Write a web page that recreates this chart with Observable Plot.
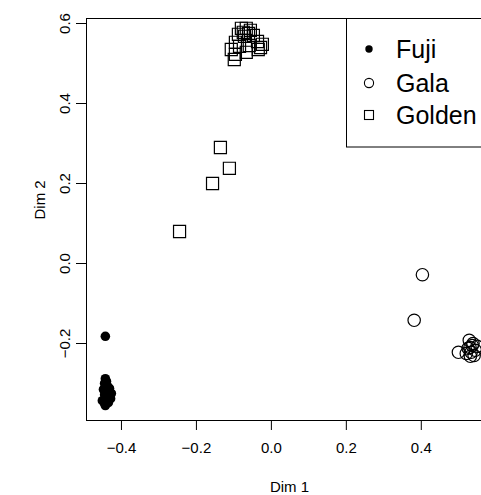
<!DOCTYPE html>
<html><head><meta charset="utf-8">
<script src="https://cdn.jsdelivr.net/npm/d3@7"></script>
<script src="https://cdn.jsdelivr.net/npm/@observablehq/plot@0.6"></script>
<style>
html,body{margin:0;padding:0;overflow:hidden;background:#fff;}
#chart{position:relative;width:481px;height:495px;overflow:hidden;}
</style></head><body><div id="chart"></div>
<script>
// Data (Dim 1, Dim 2)
const fujiX = [-0.443, -0.443, -0.445, -0.437, -0.448, -0.435, -0.427, -0.445, -0.437, -0.429, -0.451, -0.445, -0.435, -0.443, -0.440, -0.432];
const fujiY = [-0.182, -0.288, -0.300, -0.308, -0.315, -0.320, -0.325, -0.328, -0.335, -0.338, -0.343, -0.350, -0.348, -0.355, -0.295, -0.312];
const galaX = [0.403, 0.381, 0.528, 0.536, 0.525, 0.544, 0.533, 0.520, 0.541, 0.499, 0.549, 0.531, 0.538, 0.530];
const galaY = [-0.028, -0.142, -0.192, -0.205, -0.212, -0.217, -0.222, -0.225, -0.230, -0.222, -0.207, -0.232, -0.200, -0.210];
const goldenX = [-0.245, -0.157, -0.136, -0.112, -0.080, -0.067, -0.056, -0.075, -0.061, -0.088, -0.048, -0.072, -0.037, -0.024, -0.096, -0.107, -0.085, -0.059, -0.035, -0.096, -0.067, -0.099, -0.029];
const goldenY = [0.080, 0.200, 0.290, 0.238, 0.588, 0.588, 0.583, 0.578, 0.575, 0.573, 0.570, 0.568, 0.555, 0.548, 0.553, 0.535, 0.543, 0.545, 0.535, 0.523, 0.528, 0.510, 0.540];
const legendLabels = ["Fuji", "Gala", "Golden"];
const xTicks = [-0.4, -0.2, 0.0, 0.2, 0.4];
const yTicks = [-0.2, 0.0, 0.2, 0.4, 0.6];
const xLabel = "Dim 1";
const yLabel = "Dim 2";

const toRows = (xs, ys) => xs.map((x, i) => ({x, y: ys[i]}));
const fuji = toRows(fujiX, fujiY);
const gala = toRows(galaX, galaY);
const golden = toRows(goldenX, goldenY);

const fmt = d3.format(".1f");
const font = "'Liberation Sans', Arial, Helvetica, sans-serif";

const plot = Plot.plot({
  width: 481, height: 495,
  marginLeft: 86, marginRight: -11, marginTop: 18, marginBottom: 75,
  style: {fontFamily: font, fontSize: "15px", overflow: "hidden", background: "white", color: "black"},
  x: {domain: [-0.4933, 0.59]},
  y: {domain: [-0.3925, 0.6125]},
  marks: [
    Plot.frame({stroke: "black", strokeWidth: 1}),
    Plot.axisX({ticks: xTicks, tickSize: 10, tickPadding: 12, tickFormat: fmt, label: null, fontSize: 15}),
    Plot.axisY({ticks: yTicks, tickSize: 10, tickPadding: 7, tickRotate: -90, tickFormat: fmt, label: null, fontSize: 15}),
    Plot.dot(golden, {x: "x", y: "y", symbol: "square", r: 6.8, stroke: "black", strokeWidth: 1.2, fill: "none"}),
    Plot.dot(gala, {x: "x", y: "y", symbol: "circle", r: 6.2, stroke: "black", strokeWidth: 1.2, fill: "none"}),
    Plot.dot(fuji, {x: "x", y: "y", r: 4.8, fill: "black", stroke: "none"}),
    Plot.text([xLabel], {frameAnchor: "bottom", dy: 67, text: d => d, fontSize: 15, lineAnchor: "middle"}),
    Plot.text([yLabel], {frameAnchor: "left", dx: -46, text: d => d, rotate: -90, fontSize: 15, lineAnchor: "middle"})
  ]
});

// Legend (top-right, inside plot region)
const svg = d3.select(plot);
const lg = svg.append("g").attr("font-family", font).attr("text-anchor", "start");
lg.append("rect").attr("x", 346.5).attr("y", 18.5).attr("width", 160).attr("height", 128.5)
  .attr("fill", "white").attr("stroke", "black").attr("stroke-width", 1);
const rowY = [49, 83, 115];
legendLabels.forEach((lab, i) => {
  const cy = rowY[i];
  if (i === 0) lg.append("circle").attr("cx", 369).attr("cy", cy).attr("r", 3.7).attr("fill", "black");
  else if (i === 1) lg.append("circle").attr("cx", 369).attr("cy", cy).attr("r", 4.6).attr("fill", "none").attr("stroke", "black").attr("stroke-width", 1.1);
  else lg.append("rect").attr("x", 364.5).attr("y", cy - 4.5).attr("width", 9).attr("height", 9).attr("fill", "none").attr("stroke", "black").attr("stroke-width", 1.1);
  lg.append("text").attr("x", 396).attr("y", cy + 9).attr("font-size", 25).attr("fill", "black").attr("text-anchor", "start").text(lab);
});

document.getElementById("chart").appendChild(plot);
</script></body></html>
